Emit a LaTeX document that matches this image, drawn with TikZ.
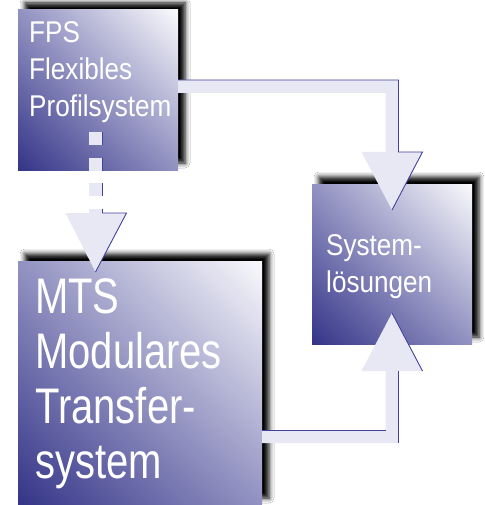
\documentclass[tikz,border=0pt]{standalone}
\usepackage{fontspec}
\usetikzlibrary{calc,shadings,shadows.blur}
\newfontfamily\smallfont[FakeStretch=0.87]{Liberation Sans}
\newfontfamily\bigfont[FakeStretch=0.8]{Liberation Sans}
\definecolor{boxdark}{RGB}{52,52,136}
\definecolor{boxmid}{RGB}{146,146,194}
\definecolor{boxlight}{RGB}{250,250,253}
\definecolor{arrowfill}{RGB}{232,232,244}
\definecolor{arrowline}{RGB}{66,66,156}
\begin{document}
\begin{tikzpicture}[x=1pt,y=-1pt,
  panel/.style={rectangle, inner sep=0pt, outer sep=0pt,
    lower left=boxdark, upper right=boxlight, upper left=boxmid, lower right=boxmid,
    blur shadow={shadow xshift=7pt, shadow yshift=7pt, shadow blur radius=5pt, shadow opacity=100}},
  smalltext/.style={text=white, inner sep=0pt, anchor=base west, font=\smallfont\fontsize{30}{36}\selectfont},
  bigtext/.style={text=white, inner sep=0pt, anchor=base west, font=\bigfont\fontsize{50}{58}\selectfont},
  armfill/.style={fill=arrowfill, draw=none},
  armline/.style={draw=arrowline, line width=0.9pt}]
\useasboundingbox[fill=white] (0,0) rectangle (484,505);

% panels
\node[panel, minimum width=160pt, minimum height=160pt] (fps) at (98,90) {};
\node[panel, minimum width=244pt, minimum height=244pt] (mts) at (140,383) {};
\node[panel, minimum width=160pt, minimum height=160pt] (sys) at (392,264) {};

% texts
\node[smalltext] (f1) at ($(fps.north west)+(11,33)$) {FPS};
\node[smalltext] (f2) at ($(fps.north west)+(11,70)$) {Flexibles};
\node[smalltext] (f3) at ($(fps.north west)+(11,107)$) {Profilsystem};

\node[bigtext] (m1) at ($(mts.north west)+(17,52)$) {MTS};
\node[bigtext] (m2) at ($(mts.north west)+(17,107)$) {Modulares};
\node[bigtext] (m3) at ($(mts.north west)+(17,162)$) {Transfer-};
\node[bigtext] (m4) at ($(mts.north west)+(17,217)$) {system};

\node[smalltext] (s1) at ($(sys.north west)+(14,71)$) {System-};
\node[smalltext] (s2) at ($(sys.north west)+(14,108)$) {lösungen};

% top arrow: fps -> sys
\coordinate (A) at ($(fps.north east)+(0,76.5)$);
\coordinate (C) at (sys.north |- A);
\coordinate (T) at ($(sys.north)+(0,26)$);
\fill[armfill] ($(A)+(0,-6.5)$) -- ($(C)+(6.5,-6.5)$) -- ($(T)+(6.5,-58)$) -- ($(T)+(30.5,-58)$) -- (T)
  -- ($(T)+(-30.5,-58)$) -- ($(T)+(-6.5,-58)$) -- ($(C)+(-6.5,6.5)$) -- ($(A)+(0,6.5)$) -- cycle;
\draw[armline] ($(A)+(0,-6.5)$) -- ($(C)+(6.5,-6.5)$) -- ($(T)+(6.5,-58)$) -- ($(T)+(30.5,-58)$) -- (T);

% bottom arrow: mts -> sys
\coordinate (A2) at ($(mts.east)+(0,53.5)$);
\coordinate (C2) at (sys.south |- A2);
\coordinate (T2) at ($(sys.south)+(0,-31)$);
\fill[armfill] ($(A2)+(0,-6.5)$) -- ($(C2)+(-6.5,-6.5)$) -- ($(T2)+(-6.5,58)$) -- ($(T2)+(-30.5,58)$) -- (T2)
  -- ($(T2)+(30.5,58)$) -- ($(T2)+(6.5,58)$) -- ($(C2)+(6.5,6.5)$) -- ($(A2)+(0,6.5)$) -- cycle;
\draw[armline] ($(A2)+(0,-6.5)$) -- ($(C2)+(-6.5,-6.5)$);
\draw[armline] ($(C2)+(6.5,6.5)$) -- ($(T2)+(6.5,58)$);
\draw[armline] (T2) -- ($(T2)+(30.5,58)$);

% dotted arrow: fps -> mts
\coordinate (D) at ($(fps.south)+(-2.5,-38)$);
\coordinate (T3) at ($(D |- mts.north)+(0,11)$);
\draw[arrowfill, line width=13pt, dash pattern=on 13pt off 12.5pt] (D) -- ($(T3)+(0,-59)$);
\draw[arrowline, line width=0.9pt, dash pattern=on 13pt off 12.5pt] ($(D)+(6.5,0)$) -- ($(T3)+(6.5,-59)$);
\fill[armfill] ($(T3)+(-30,-59)$) -- ($(T3)+(31,-59)$) -- (T3) -- cycle;
\draw[armline] ($(T3)+(6.5,-59)$) -- ($(T3)+(31,-59)$) -- (T3);
\end{tikzpicture}
\end{document}
